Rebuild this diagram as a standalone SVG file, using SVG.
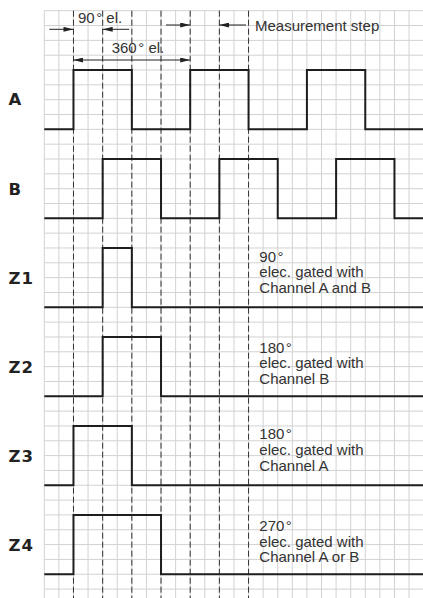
<svg xmlns="http://www.w3.org/2000/svg" width="423" height="598" viewBox="0 0 423 598">
<defs>
<style>
.grid{stroke:#d2d2d2;stroke-width:1;fill:none}
.dash{stroke:#333;stroke-width:1;stroke-dasharray:6 3;fill:none}
.sig{stroke:#1e1e1e;stroke-width:2;fill:none;stroke-linejoin:miter}
.arr{stroke:#222;stroke-width:1;fill:none}
.lbl{font-family:"DejaVu Sans",sans-serif;font-weight:bold;font-size:16.5px;fill:#222;letter-spacing:1px}
.txt{font-family:"Liberation Sans",Arial,sans-serif;font-size:15px;fill:#333}
</style>
<marker id="ah" viewBox="0 0 10 5" refX="10" refY="2.5" markerWidth="10" markerHeight="5" markerUnits="userSpaceOnUse" orient="auto-start-reverse">
<path d="M0,0 L10,2.5 L0,5 z" fill="#222"/>
</marker>
</defs>
<rect width="423" height="598" fill="#fff"/>
<g id="grid">
<path class="grid" d="M44.3,10.7V598M58.89,10.7V598M73.48,10.7V598M88.07,10.7V598M102.66,10.7V598M117.25,10.7V598M131.84,10.7V598M146.43,10.7V598M161.02,10.7V598M175.61,10.7V598M190.2,10.7V598M204.79,10.7V598M219.38,10.7V598M233.97,10.7V598M248.56,10.7V598M263.15,10.7V598M277.74,10.7V598M292.33,10.7V598M306.92,10.7V598M321.51,10.7V598M336.1,10.7V598M350.69,10.7V598M365.28,10.7V598M379.87,10.7V598M394.46,10.7V598M409.05,10.7V598"/>
<path class="grid" d="M44.3,10.7H423M44.3,25.53H423M44.3,40.36H423M44.3,55.19H423M44.3,70.02H423M44.3,84.85H423M44.3,99.68H423M44.3,114.51H423M44.3,129.34H423M44.3,144.17H423M44.3,159H423M44.3,173.83H423M44.3,188.66H423M44.3,203.49H423M44.3,218.32H423M44.3,233.15H423M44.3,247.98H423M44.3,262.81H423M44.3,277.64H423M44.3,292.47H423M44.3,307.3H423M44.3,322.13H423M44.3,336.96H423M44.3,351.79H423M44.3,366.62H423M44.3,381.45H423M44.3,396.28H423M44.3,411.11H423M44.3,425.94H423M44.3,440.77H423M44.3,455.6H423M44.3,470.43H423M44.3,485.26H423M44.3,500.09H423M44.3,514.92H423M44.3,529.75H423M44.3,544.58H423M44.3,559.41H423M44.3,574.24H423M44.3,589.07H423"/>
</g>
<g id="dashed-lines">
<path class="dash" d="M73.48,10.7V598M102.66,10.7V598M131.84,10.7V598M161.02,10.7V598M190.2,10.7V598M219.38,10.7V598M248.56,10.7V598"/>
</g>
<g id="connectors">
<line class="arr" x1="49.3" y1="29.3" x2="73.48" y2="29.3" marker-end="url(#ah)"/>
<line class="arr" x1="129.3" y1="29.3" x2="102.66" y2="29.3" marker-end="url(#ah)"/>
<line class="arr" x1="73.48" y1="60" x2="190.2" y2="60" marker-start="url(#ah)" marker-end="url(#ah)"/>
<line class="arr" x1="166" y1="25" x2="190.2" y2="25" marker-end="url(#ah)"/>
<line class="arr" x1="246" y1="25" x2="219.38" y2="25" marker-end="url(#ah)"/>
</g>
<g id="dimension-labels">
<text class="txt" x="78" y="22.7">90<tspan dx="1.5">°</tspan> el.</text>
<text class="txt" x="111.7" y="53.3">360<tspan dx="1.5">°</tspan> el.</text>
<text class="txt" x="255" y="30.7">Measurement step</text>
</g>
<g id="signal-A">
<text class="lbl" x="8.5" y="105">A</text>
<path class="sig" d="M44.3,129.34H73.48V70.02H131.84V129.34H190.2V70.02H248.56V129.34H306.92V70.02H365.28V129.34H423"/>
</g>
<g id="signal-B">
<text class="lbl" x="8.5" y="194.5">B</text>
<path class="sig" d="M44.3,218.32H102.66V159H161.02V218.32H219.38V159H277.74V218.32H336.1V159H394.46V218.32H423"/>
</g>
<g id="signal-Z1">
<text class="lbl" x="8.5" y="283.5">Z1</text>
<path class="sig" d="M44.3,307.3H102.66V247.98H131.84V307.3H423"/>
<text class="txt" x="259.3" y="261.7">90<tspan dx="1.5">°</tspan></text>
<text class="txt" x="259.3" y="277.3">elec. gated with</text>
<text class="txt" x="259.3" y="293.3">Channel A and B</text>
</g>
<g id="signal-Z2">
<text class="lbl" x="8.5" y="372.5">Z2</text>
<path class="sig" d="M44.3,396.28H102.66V336.96H161.02V396.28H423"/>
<text class="txt" x="259.3" y="352.7">180<tspan dx="1.5">°</tspan></text>
<text class="txt" x="259.3" y="368.3">elec. gated with</text>
<text class="txt" x="259.3" y="384">Channel B</text>
</g>
<g id="signal-Z3">
<text class="lbl" x="8.5" y="461.5">Z3</text>
<path class="sig" d="M44.3,485.26H73.48V425.94H131.84V485.26H423"/>
<text class="txt" x="259.3" y="439.3">180<tspan dx="1.5">°</tspan></text>
<text class="txt" x="259.3" y="455">elec. gated with</text>
<text class="txt" x="259.3" y="471">Channel A</text>
</g>
<g id="signal-Z4">
<text class="lbl" x="8.5" y="550.5">Z4</text>
<path class="sig" d="M44.3,574.24H73.48V514.92H161.02V574.24H423"/>
<text class="txt" x="259.3" y="531">270<tspan dx="1.5">°</tspan></text>
<text class="txt" x="259.3" y="546.7">elec. gated with</text>
<text class="txt" x="259.3" y="562.3">Channel A or B</text>
</g>
</svg>
